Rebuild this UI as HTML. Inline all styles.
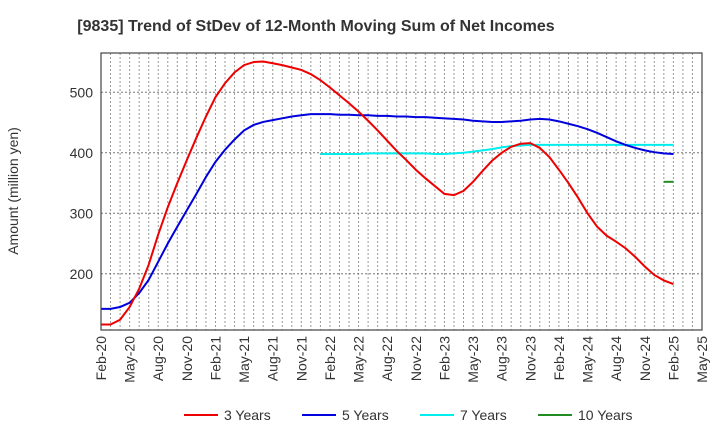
<!DOCTYPE html>
<html><head><meta charset="utf-8"><style>
body{margin:0;background:#fff;font-family:"Liberation Sans",sans-serif;}
svg{display:block}
</style></head><body>
<svg id="chart" width="720" height="440">
<text x="316" y="31" text-anchor="middle" font-size="16" font-weight="bold" fill="#333">[9835]  Trend of StDev of 12-Month Moving Sum of Net Incomes</text>
<text transform="translate(18,191) rotate(-90)" text-anchor="middle" font-size="14" fill="#333">Amount (million yen)</text>
<g id="grid"></g><g id="series"></g><g id="axes"></g>
<g id="legend"></g>
</svg>
<script>
const xTickLabels=["Feb-20","May-20","Aug-20","Nov-20","Feb-21","May-21","Aug-21","Nov-21","Feb-22","May-22","Aug-22","Nov-22","Feb-23","May-23","Aug-23","Nov-23","Feb-24","May-24","Aug-24","Nov-24","Feb-25","May-25"];
const yTicks=[200,300,400,500];
const seriesNames=["3 Years","5 Years","7 Years","10 Years"];
const seriesColors=["#ee0000","#0000dd","#00eeee","#228b22"];
const s3=[116,116,124,145,175,215,265,310,350,388,425,460,492,515,533,545,550,551,548,545,541,537,530,520,508,495,482,468,453,437,420,403,388,372,358,345,332,330,337,352,370,387,400,410,415,416,408,393,372,350,326,300,278,263,253,242,228,212,198,189,183];
const s5=[142,142,145,152,168,190,220,250,278,305,332,360,385,405,422,437,446,451,454,457,460,462,464,464,464,463,463,462,462,461,461,460,460,459,459,458,457,456,455,453,452,451,451,452,453,455,456,455,452,448,444,439,433,426,419,413,408,404,401,399,398];
const s7Start=23;
const s7=[398,398,398,398,398,399,399,399,399,399,399,399,398,398,399,400,402,404,406,409,411,412,413,413,413,413,413,413,413,413,413,413,413,413,413,413,413,413];
const s10Start=59;
const s10=[352,352];
const L=101,R=702,T=53,B=330,yMin=107,yMax=565,nMonths=63;
const xs=i=>L+i*(R-L)/nMonths;
const ys=v=>B-(v-yMin)/(yMax-yMin)*(B-T);
const NS="http://www.w3.org/2000/svg";
function mk(tag,attrs,parent){const e=document.createElementNS(NS,tag);for(const k in attrs)e.setAttribute(k,attrs[k]);parent.appendChild(e);return e;}
const grid=document.getElementById('grid'),axes=document.getElementById('axes'),ser=document.getElementById('series'),leg=document.getElementById('legend');
for(let m=1;m<nMonths;m++){const l=mk('line',{x1:xs(m),x2:xs(m),y1:T,y2:B,stroke:'#999','stroke-dasharray':'2,2','stroke-width':1},grid);

}
yTicks.forEach(v=>{const l=mk('line',{x1:L,x2:R,y1:ys(v),y2:ys(v),stroke:'#777','stroke-dasharray':'2,2','stroke-width':1},grid);


const t=mk('text',{x:L-8,y:ys(v)+5,'text-anchor':'end','font-size':14,fill:'#333'},axes);t.textContent=v;

});
const fr=mk('rect',{x:L,y:T,width:R-L,height:B-T,fill:'none',stroke:'#444','stroke-width':1.2},axes);


xTickLabels.forEach((s,i)=>{const x=xs(i*3);const t=mk('text',{transform:`translate(${x+5},${B+6}) rotate(-90)`,'text-anchor':'end','font-size':14,fill:'#333'},axes);t.textContent=s;

});
function line(arr,start,color,name){const p=mk('polyline',{points:arr.map((v,i)=>xs(start+i)+','+ys(v)).join(' '),fill:'none',stroke:color,'stroke-width':2},ser);

}
line(s7,s7Start,seriesColors[2],'line-7-years');
line(s5,0,seriesColors[1],'line-5-years');
line(s3,0,seriesColors[0],'line-3-years');
line(s10,s10Start,seriesColors[3],'line-10-years');
const lx=[184,302,420,538];
seriesNames.forEach((n,i)=>{const g=mk('g',{},leg);


mk('line',{x1:lx[i],x2:lx[i]+34,y1:415,y2:415,stroke:seriesColors[i],'stroke-width':2},g);
const t=mk('text',{x:lx[i]+40,y:420,'font-size':14,fill:'#333'},g);t.textContent=n;});
</script>
</body></html>
